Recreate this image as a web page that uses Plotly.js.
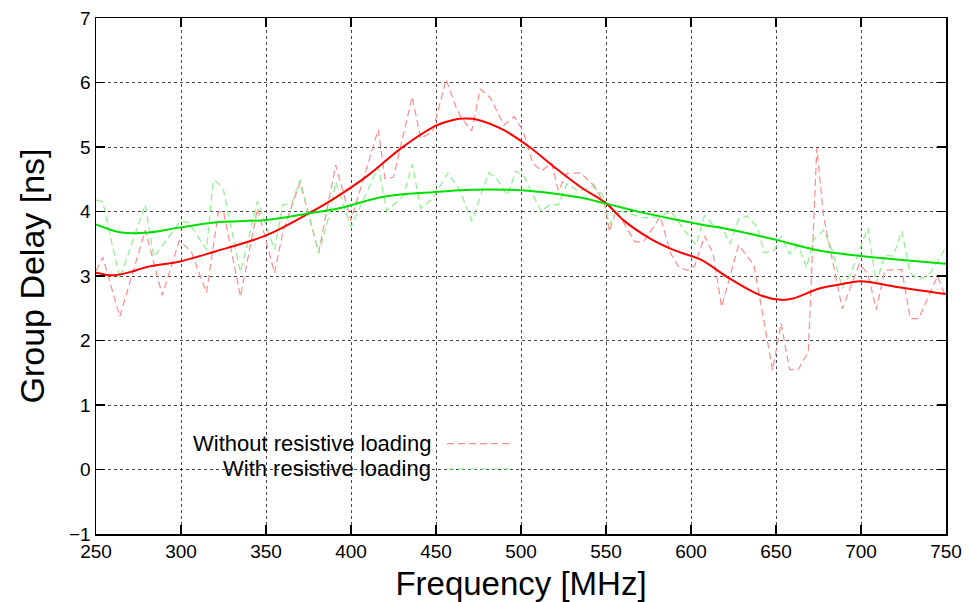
<!DOCTYPE html>
<html>
<head>
<meta charset="utf-8">
<script src="https://cdn.plot.ly/plotly-3.0.1.min.js"></script>
<style>html,body{margin:0;padding:0;background:#fff;}#chart{width:970px;height:602px;}</style>
</head>
<body>
<div id="chart"></div>
<script>
// Raw measured group delay, without resistive loading (dashed red)
const freqWithout = [250,254,264,279,289,299,306,315,322,325,335,345,355,360,370,381,391,400,416,420,425,436,441,448,456,462,465,471,476,482,490,496,501,507,512,518,522,527,535,543,549,552,556,567,572,582,588,593,598,602,608,613,618,628,637,648,653,658,663,669,674,678,689,699,704,709,714,724,729,734,745,750];
const delayWithout = [3.08,3.29,2.37,3.71,2.70,3.55,3.38,2.74,3.99,4.00,2.68,4.05,3.05,3.69,4.45,3.37,4.72,3.86,5.27,4.51,4.53,5.78,5.13,5.24,6.05,5.60,5.45,5.25,5.90,5.76,5.34,5.47,5.26,4.75,4.63,4.75,4.32,4.59,4.60,4.40,4.13,3.69,4.02,3.53,3.53,3.92,3.35,3.13,3.09,3.15,3.62,3.35,2.52,3.48,3.17,1.54,2.27,1.55,1.55,1.82,4.98,3.92,2.49,3.19,3.04,2.48,3.09,3.10,2.34,2.34,3.00,2.65];

// Raw measured group delay, with resistive loading (dashed green)
const freqWith = [250,254,264,279,284,299,304,315,319,322,325,335,345,355,360,365,370,381,388,391,400,416,421,431,436,441,448,457,464,471,481,486,492,497,502,506,512,517,522,527,534,542,548,552,556,562,572,582,588,596,603,608,613,618,623,628,633,639,643,649,653,658,663,668,672,678,683,689,694,704,709,714,719,724,729,734,740,750];
const delayWith = [4.18,4.15,2.96,4.11,3.29,3.83,3.84,3.41,4.48,4.44,4.33,3.06,4.16,3.41,4.11,4.11,4.49,3.35,4.02,4.46,3.76,4.69,4.01,4.25,4.73,4.05,4.20,4.60,4.33,3.85,4.60,4.50,4.25,4.63,4.54,4.31,4.00,4.11,4.10,4.43,4.31,4.39,4.26,3.79,4.02,3.98,3.90,3.92,4.01,3.71,3.48,3.94,3.79,3.76,3.50,3.88,3.93,3.76,3.36,3.40,3.62,3.34,3.48,3.13,3.56,3.71,3.40,2.81,3.04,3.75,2.89,3.32,3.31,3.70,3.04,2.95,3.01,3.45];

// Smoothed curves (solid)
const freqSmoothWithout = [250,260,270,280,300,320,350,375,390,410,430,450,460,467,475,490,505,520,535,550,560,576,590,606,621,641,653,660,676,692,700,721,750];
const smoothWithout = [3.05,3.01,3.06,3.14,3.23,3.38,3.63,3.97,4.20,4.56,4.99,5.33,5.42,5.44,5.42,5.26,5.00,4.68,4.38,4.13,3.87,3.58,3.40,3.25,2.99,2.70,2.63,2.65,2.81,2.89,2.92,2.83,2.72];
const freqSmoothWith = [250,264,279,299,320,350,375,393,419,448,464,480,500,519,534,549,570,590,606,625,650,676,700,750];
const smoothWith = [3.80,3.68,3.67,3.75,3.83,3.87,3.97,4.05,4.23,4.30,4.33,4.34,4.33,4.28,4.22,4.13,3.99,3.88,3.80,3.71,3.56,3.39,3.31,3.19];

const legendLabels = ["Without resistive loading", "With resistive loading"];
const xTicks = [250,300,350,400,450,500,550,600,650,700,750];
const yTicks = [-1,0,1,2,3,4,5,6,7];

const RED_LIGHT = "#ff8c8c";
const GREEN_LIGHT = "#8cf08c";
const RED = "#ff0000";
const GREEN = "#00e000";
const DASH = "7px,4px";

const traces = [
  {x: freqWithout, y: delayWithout, mode: "lines", name: legendLabels[0], showlegend: false,
   line: {color: RED_LIGHT, width: 1.2, dash: DASH}, hoverinfo: "skip"},
  {x: freqWith, y: delayWith, mode: "lines", name: legendLabels[1], showlegend: false,
   line: {color: GREEN_LIGHT, width: 1.2, dash: DASH}, hoverinfo: "skip"},
  {x: freqSmoothWithout, y: smoothWithout, mode: "lines", showlegend: false,
   line: {color: RED, width: 2, shape: "spline", smoothing: 1}},
  {x: freqSmoothWith, y: smoothWith, mode: "lines", showlegend: false,
   line: {color: GREEN, width: 2, shape: "spline", smoothing: 1}}
];

const FONT = "Liberation Sans, Arial, sans-serif";

const axisCommon = {
  showline: true, linecolor: "#000", linewidth: 1.5, mirror: "allticks",
  ticks: "inside", ticklen: 9, tickwidth: 1.5, tickcolor: "#000",
  showgrid: true, gridcolor: "#444", gridwidth: 1, griddash: "dot",
  zeroline: false, tickfont: {family: FONT, size: 19, color: "#000"}
};

// Manual gnuplot-style legend: text right-aligned, sample line on the right
const legendRows = [0.175, 0.126];
const annotations = legendLabels.map((t, i) => ({
  text: t, xref: "paper", yref: "paper", x: 0.397, y: legendRows[i],
  xanchor: "right", yanchor: "middle", showarrow: false,
  font: {family: FONT, size: 22, color: "#000"}
}));
const shapes = [
  {type: "rect", xref: "paper", yref: "paper", x0: 0.028, x1: 0.49, y0: 0.1, y1: 0.205,
   fillcolor: "#fff", line: {width: 0}, layer: "between"},
  {type: "line", xref: "paper", yref: "paper", x0: 0.413, x1: 0.487, y0: legendRows[0], y1: legendRows[0],
   line: {color: RED_LIGHT, width: 1.2, dash: DASH}},
  {type: "line", xref: "paper", yref: "paper", x0: 0.413, x1: 0.487, y0: legendRows[1], y1: legendRows[1],
   line: {color: GREEN_LIGHT, width: 1.2, dash: DASH}}
];

const layout = {
  width: 970, height: 602,
  margin: {l: 96, r: 24, t: 18, b: 68},
  paper_bgcolor: "#fff", plot_bgcolor: "#fff",
  showlegend: false,
  font: {family: FONT, color: "#000"},
  xaxis: Object.assign({}, axisCommon, {
    range: [250, 750], tickvals: xTicks, ticktext: xTicks.map(String),
    title: {text: "Frequency [MHz]", font: {family: FONT, size: 33, color: "#000"}, standoff: 10},
    automargin: false
  }),
  yaxis: Object.assign({}, axisCommon, {
    range: [-1, 7], tickvals: yTicks,
    title: {text: "Group Delay [ns]", font: {family: FONT, size: 34, color: "#000"}, standoff: 14},
    automargin: false
  }),
  annotations: annotations,
  shapes: shapes
};

Plotly.newPlot("chart", traces, layout, {displayModeBar: false, staticPlot: true});
</script>
</body>
</html>
